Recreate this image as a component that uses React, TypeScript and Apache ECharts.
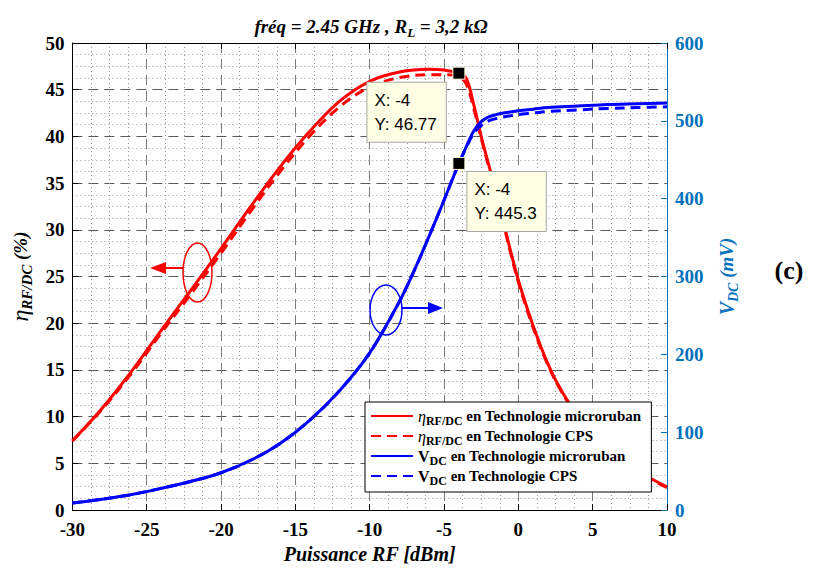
import React, { useEffect, useRef } from "react";
import * as echarts from "echarts";

// ---------- data ----------
const etaX = [-30, -28, -26, -24, -22, -20, -18, -16, -14, -12, -10, -8, -6, -5, -4, -3.5, -3, -2.5, -2, -1.5, -1, -0.5, 0, 1, 2, 3, 4, 5, 6, 7, 8, 9, 10];
const etaMicro = [7.4, 10.9, 14.9, 19.3, 23.6, 28.0, 32.5, 36.8, 40.6, 43.8, 45.9, 46.9, 47.2, 47.1, 46.77, 46.2, 43.4, 40.0, 37.0, 34.0, 30.8, 27.6, 24.6, 19.7, 15.6, 12.5, 10.2, 8.4, 6.8, 5.4, 4.2, 3.3, 2.5];
const etaCps = [7.4, 10.8, 14.7, 19.0, 23.2, 27.5, 32.0, 36.3, 40.1, 43.2, 45.3, 46.3, 46.6, 46.6, 46.4, 45.6, 43.0, 39.8, 36.8, 33.8, 30.6, 27.4, 24.4, 19.5, 15.5, 12.4, 10.1, 8.3, 6.7, 5.3, 4.1, 3.2, 2.4];

const vX = [-30, -28, -26, -24, -22, -20, -18, -16, -14, -12, -10, -8, -7, -6, -5, -4, -3.5, -3, -2.5, -2, -1.5, -1, 0, 1, 2, 4, 6, 8, 10];
const vMicro = [9, 14, 20, 28, 37, 48, 64, 86, 116, 154, 202, 268, 308, 352, 398, 445.3, 467, 487, 499, 505, 508, 510, 513, 515, 517, 519, 521, 522, 523];
const vCps = [9, 14, 20, 28, 37, 48, 64, 86, 116, 154, 202, 268, 308, 352, 398, 445.3, 466, 484, 494, 500, 503, 505, 508, 510, 512, 514, 516, 517, 518];

const tipX = [-4];
const tipEta = [46.77];
const tipV = [445.3];

const seriesNames = ["eta_micro", "eta_cps", "v_micro", "v_cps"];
const legendLabels: Record<string, string> = {
  eta_micro: "{e|η}{s|RF/DC}{t| en Technologie microruban}",
  eta_cps: "{e|η}{s|RF/DC}{t| en Technologie CPS}",
  v_micro: "{v|V}{s|DC}{t| en Technologie microruban}",
  v_cps: "{v|V}{s|DC}{t| en Technologie CPS}",
};

const SERIF = "'Liberation Serif', 'Times New Roman', serif";
const SANS = "'Liberation Sans', Arial, sans-serif";
const RED = "#ff0000";
const BLUE = "#0000ff";
const AXBLUE = "#0072BD";

const pairs = (xs: number[], ys: number[]) => xs.map((x, i) => [x, ys[i]]);

export default function App() {
  const ref = useRef<HTMLDivElement>(null);
  useEffect(() => {
    document.body.style.margin = "0";
    document.body.style.overflow = "hidden";
    document.documentElement.style.overflow = "hidden";
    const chart = echarts.init(ref.current!, undefined, { renderer: "svg" });
    const tipLabel = {
      show: true,
      formatter: (p: any) => `X: ${p.value[0]}\nY: ${p.value[1]}`,
      fontFamily: SANS,
      fontSize: 17,
      lineHeight: 24,
      color: "#000",
      backgroundColor: "#ffffe6",
      borderColor: "#a8a8a8",
      borderWidth: 1,
      padding: [6, 9, 5, 7],
    };
    const option: any = {
      animation: false,
      title: {
        text: "{a|fréq = 2.45 GHz , R}{s|L}{a| = 3,2 kΩ}",
        left: 366,
        textAlign: "center",
        top: 8,
        textStyle: {
          rich: {
            a: { fontFamily: SERIF, fontStyle: "italic", fontWeight: "bold", fontSize: 19, color: "#000" },
            s: { fontFamily: SERIF, fontStyle: "italic", fontWeight: "bold", fontSize: 13, color: "#000", padding: [13, 0, 0, 0] },
          },
        },
      },
      grid: { left: 70, right: 153, top: 43, bottom: 54, containLabel: false },
      legend: {
        data: seriesNames,
        left: 365,
        top: 402,
        orient: "vertical",
        itemWidth: 42,
        itemHeight: 12,
        itemGap: 1,
        padding: [6, 10, 5, 5],
        backgroundColor: "#fff",
        borderColor: "#000",
        borderWidth: 1,
        itemStyle: { opacity: 0 },
        formatter: (n: string) => legendLabels[n],
        textStyle: {
          color: "#000",
          rich: {
            e: { fontFamily: SERIF, fontStyle: "italic", fontSize: 16, color: "#000" },
            v: { fontFamily: SERIF, fontWeight: "bold", fontSize: 16, color: "#000" },
            s: { fontFamily: SERIF, fontWeight: "bold", fontSize: 12, color: "#000", padding: [10, 0, 0, 0] },
            t: { fontFamily: SERIF, fontWeight: "bold", fontSize: 15, color: "#000" },
          },
        },
      },
      xAxis: [
        {
          type: "value",
          min: -30,
          max: 10,
          interval: 5,
          position: "bottom",
          name: "Puissance RF [dBm]",
          nameLocation: "middle",
          nameGap: 24,
          nameTextStyle: { fontFamily: SERIF, fontStyle: "italic", fontWeight: "bold", fontSize: 20, color: "#000", verticalAlign: "top" },
          axisLine: { show: true, onZero: false, lineStyle: { color: "#000", width: 1 } },
          axisTick: { show: true, inside: true, length: 6, lineStyle: { color: "#000" } },
          axisLabel: { fontFamily: SERIF, fontWeight: "bold", fontSize: 19, color: "#000", margin: 10 },
          splitLine: { show: true, lineStyle: { type: [10, 6], color: "#7a7a7a", width: 1 } },
          minorTick: { show: false, splitNumber: 4 },
          minorSplitLine: { show: true, lineStyle: { type: [1, 3], color: "#999", width: 1 } },
        },
        {
          type: "value",
          min: -30,
          max: 10,
          interval: 5,
          position: "top",
          axisLine: { show: true, onZero: false, lineStyle: { color: "#000", width: 1 } },
          axisTick: { show: true, inside: true, length: 6, lineStyle: { color: "#000" } },
          axisLabel: { show: false },
          splitLine: { show: false },
        },
      ],
      yAxis: [
        {
          type: "value",
          min: 0,
          max: 50,
          interval: 5,
          position: "left",
          name: "{e|η}{s|RF/DC}{p| (%)}",
          nameLocation: "middle",
          nameRotate: 90,
          nameGap: 27,
          nameTextStyle: {
            rich: {
              e: { fontFamily: SERIF, fontStyle: "italic", fontSize: 24, color: "#000" },
              s: { fontFamily: SERIF, fontStyle: "italic", fontWeight: "bold", fontSize: 15, color: "#000", padding: [14, 0, 0, 0] },
              p: { fontFamily: SERIF, fontStyle: "italic", fontWeight: "bold", fontSize: 19, color: "#000" },
            },
          },
          axisLine: { show: true, onZero: false, lineStyle: { color: "#000", width: 1 } },
          axisTick: { show: true, inside: true, length: 6, lineStyle: { color: "#000" } },
          axisLabel: { fontFamily: SERIF, fontWeight: "bold", fontSize: 19, color: "#000", margin: 8 },
          splitLine: { show: true, lineStyle: { type: [10, 6], color: "#5a5a5a", width: 1 } },
          minorTick: { show: false, splitNumber: 4 },
          minorSplitLine: { show: true, lineStyle: { type: [1, 3], color: "#999", width: 1 } },
        },
        {
          type: "value",
          min: 0,
          max: 600,
          interval: 100,
          position: "right",
          name: "{v|V}{s|DC}{p| (mV)}",
          nameLocation: "middle",
          nameRotate: 90,
          nameGap: 46,
          nameTextStyle: {
            rich: {
              v: { fontFamily: SERIF, fontStyle: "italic", fontWeight: "bold", fontSize: 20, color: AXBLUE },
              s: { fontFamily: SERIF, fontStyle: "italic", fontWeight: "bold", fontSize: 14, color: AXBLUE, padding: [13, 0, 0, 0] },
              p: { fontFamily: SERIF, fontStyle: "italic", fontWeight: "bold", fontSize: 19, color: AXBLUE },
            },
          },
          axisLine: { show: true, onZero: false, lineStyle: { color: AXBLUE, width: 1 } },
          axisTick: { show: true, inside: true, length: 6, lineStyle: { color: AXBLUE } },
          axisLabel: { fontFamily: SERIF, fontWeight: "bold", fontSize: 19, color: AXBLUE, margin: 8 },
          splitLine: { show: false },
        },
      ],
      series: [
        {
          name: "eta_micro",
          type: "line",
          xAxisIndex: 0,
          yAxisIndex: 0,
          data: pairs(etaX, etaMicro),
          smooth: 0.35,
          symbol: "none",
          lineStyle: { color: RED, width: 3 },
          itemStyle: { color: RED },
          z: 3,
        },
        {
          name: "eta_cps",
          type: "line",
          xAxisIndex: 0,
          yAxisIndex: 0,
          data: pairs(etaX, etaCps),
          smooth: 0.35,
          symbol: "none",
          lineStyle: { color: RED, width: 3, type: [10, 6] },
          itemStyle: { color: RED },
          z: 3,
        },
        {
          name: "v_micro",
          type: "line",
          xAxisIndex: 0,
          yAxisIndex: 1,
          data: pairs(vX, vMicro),
          smooth: 0.35,
          symbol: "none",
          lineStyle: { color: BLUE, width: 3 },
          itemStyle: { color: BLUE },
          z: 3,
        },
        {
          name: "v_cps",
          type: "line",
          xAxisIndex: 0,
          yAxisIndex: 1,
          data: pairs(vX, vCps),
          smooth: 0.35,
          symbol: "none",
          lineStyle: { color: BLUE, width: 3, type: [10, 6] },
          itemStyle: { color: BLUE },
          z: 3,
        },
        {
          name: "tipEta",
          type: "scatter",
          xAxisIndex: 0,
          yAxisIndex: 0,
          data: pairs(tipX, tipEta),
          symbol: "rect",
          symbolSize: 12,
          itemStyle: { color: "#000", borderColor: "#fffbe0", borderWidth: 1, opacity: 1 },
          label: { ...tipLabel, position: [-85, 16] },
          z: 10,
        },
        {
          name: "tipV",
          type: "scatter",
          xAxisIndex: 0,
          yAxisIndex: 1,
          data: pairs(tipX, tipV),
          symbol: "rect",
          symbolSize: 12,
          itemStyle: { color: "#000", borderColor: "#fffbe0", borderWidth: 1, opacity: 1 },
          label: { ...tipLabel, position: [15, 15] },
          z: 10,
        },
      ],
      graphic: [
        { type: "ellipse", shape: { cx: 197.5, cy: 272.5, rx: 14.5, ry: 29.5 }, style: { fill: "none", stroke: RED, lineWidth: 1.5 }, z: 20 },
        { type: "line", shape: { x1: 183, y1: 268, x2: 162, y2: 268 }, style: { stroke: RED, lineWidth: 2 }, z: 20 },
        { type: "polygon", shape: { points: [[150, 268], [166, 262], [166, 274]] }, style: { fill: RED }, z: 20 },
        { type: "ellipse", shape: { cx: 386, cy: 310, rx: 16, ry: 25 }, style: { fill: "none", stroke: BLUE, lineWidth: 1.5 }, z: 20 },
        { type: "line", shape: { x1: 402, y1: 308, x2: 430, y2: 308 }, style: { stroke: BLUE, lineWidth: 2 }, z: 20 },
        { type: "polygon", shape: { points: [[443, 308], [428, 302], [428, 314]] }, style: { fill: BLUE }, z: 20 },
        {
          type: "text",
          x: 789,
          y: 270,
          style: { text: "(c)", font: `bold 26px ${SERIF}`, fill: "#000", align: "center", verticalAlign: "middle" },
          z: 20,
        },
      ],
    };
    chart.setOption(option);
    return () => chart.dispose();
  }, []);
  return <div ref={ref} style={{ width: 820, height: 569, overflow: "hidden" }} />;
}
